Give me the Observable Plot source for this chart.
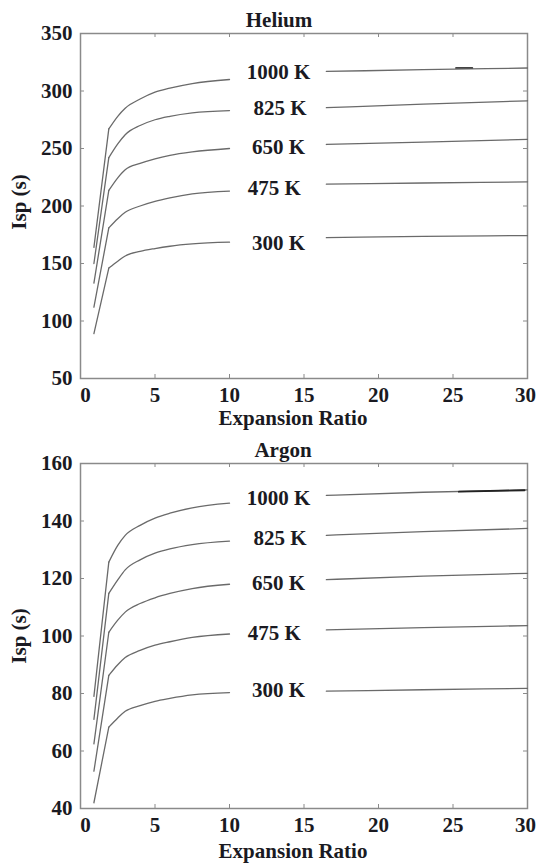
<!DOCTYPE html>
<html><head><meta charset="utf-8">
<script src="https://cdn.jsdelivr.net/npm/d3@7"></script>
<script src="https://cdn.jsdelivr.net/npm/@observablehq/plot@0.6"></script>
<style>
body{margin:0;background:#fff;}
#chart{width:536px;}
#chart svg{display:block;}
</style></head><body><div id="chart"></div>
<script>
const temps = ["1000 K", "825 K", "650 K", "475 K", "300 K"];
const leftX = [0.9, 1.9, 2.5, 3, 4, 5, 6, 7.5, 10];
const rightX = [16.5, 23, 30];
const xTicks = [0, 5, 10, 15, 20, 25, 30];

const heliumYTicks = [50, 100, 150, 200, 250, 300, 350];
const heliumLeft = [
  [164, 267, 278, 285, 293, 299, 302.5, 306.5, 310],
  [150, 242, 254, 262, 270, 275, 278, 281, 283],
  [133, 213.5, 224.5, 231.5, 237, 241, 244, 247, 250],
  [112, 181, 189, 194.5, 200, 204, 207, 210.5, 213],
  [89, 146, 152, 156.5, 160.5, 163, 165, 167, 168.5]
];
const heliumRight = [
  [317, 318.5, 320],
  [285.5, 288.5, 291.5],
  [253.5, 255.5, 258],
  [219, 220, 221],
  [172.5, 173.5, 174.3]
];
const heliumLabelX = [13.3, 13.4, 13.3, 13.0, 13.3];
const heliumLabelY = [316, 285, 251, 215, 168];
const heliumDarkX = [25.2, 26.3];
const heliumDarkY = [320.1, 320.1];

const argonYTicks = [40, 60, 80, 100, 120, 140, 160];
const argonLeft = [
  [79, 125.7, 131.5, 135, 138.5, 141, 142.7, 144.6, 146.2],
  [71, 114.8, 119.5, 123, 126.5, 128.8, 130.3, 131.8, 133],
  [62.5, 101.3, 105.5, 108.3, 111.3, 113.3, 114.8, 116.5, 118],
  [53, 86.3, 90, 92.5, 95, 96.8, 98, 99.5, 100.7],
  [42, 68.3, 71.5, 73.8, 75.8, 77.3, 78.3, 79.5, 80.3]
];
const argonRight = [
  [148.9, 150, 150.8],
  [135, 136.3, 137.4],
  [119.6, 120.8, 121.8],
  [102.1, 102.9, 103.6],
  [80.8, 81.3, 81.8]
];
const argonLabelX = [13.3, 13.4, 13.3, 13.0, 13.3];
const argonLabelY = [147.8, 134, 118.3, 100.8, 81];
const argonDarkX = [25.4, 29.8];
const argonDarkY = [150.2, 150.7];

const FONT = "'Liberation Serif', Tinos, 'Times New Roman', 'Nimbus Roman', 'Noto Serif', 'DejaVu Serif', serif";
const TEXT = "#1a1a22";
const LINE = "#6a6a6a";
const FRAME = "#8a8a8a";

const ctx = document.createElement("canvas").getContext("2d");
ctx.font = "bold 20px " + FONT;
const measured = ctx.measureText("Expansion Ratio").width || 141;
const FS = Math.max(14, Math.min(21, 20 * 151 / measured));

function panel({title, left, right, labelX, labelY, darkX, darkY, darkColor, darkWidth, yTicks, height, marginTop, marginBottom, titleDx, titleDy, xLabelDy, yLabelDy}) {
  const marginLeft = 80, marginRight = 9;
  const plotW = 536 - marginLeft - marginRight;
  const plotH = height - marginTop - marginBottom;
  const steep = [], curved = [];
  temps.forEach((t, i) => {
    [0, 1].forEach(j => steep.push({seg: t + "-S", x: leftX[j], y: left[i][j]}));
    leftX.forEach((x, j) => { if (j >= 1) curved.push({seg: t + "-L", x, y: left[i][j]}); });
    rightX.forEach((x, j) => curved.push({seg: t + "-R", x, y: right[i][j]}));
  });
  const dark = darkX.map((x, j) => ({x, y: darkY[j]}));
  const labels = temps.map((t, i) => ({t, x: labelX[i], y: labelY[i]}));
  const txt = {fontSize: FS, fill: TEXT, fontFamily: FONT, fontWeight: "bold"};
  const midTicks = xTicks.slice(1, -1);
  return Plot.plot({
    width: 536, height, marginTop, marginBottom, marginLeft, marginRight,
    style: {fontFamily: FONT, fontWeight: "bold", fontSize: FS + "px", color: TEXT, background: "#fff"},
    x: {domain: [0, 30]},
    y: {domain: [yTicks[0], yTicks[yTicks.length - 1]]},
    marks: [
      Plot.frame({stroke: FRAME, strokeWidth: 1.5}),
      Plot.ruleX(xTicks, {x: d => d, insetTop: plotH - 4, stroke: FRAME}),
      Plot.ruleX(xTicks, {x: d => d, insetBottom: plotH - 4, stroke: FRAME}),
      Plot.ruleY(yTicks, {y: d => d, insetRight: plotW - 4, stroke: FRAME}),
      Plot.ruleY(yTicks, {y: d => d, insetLeft: plotW - 4, stroke: FRAME}),
      Plot.axisX(midTicks, {tickSize: 0, tickPadding: 9, label: null, ...txt}),
      Plot.axisX([xTicks[0]], {tickSize: 0, tickPadding: 9, label: null, dx: 5, ...txt}),
      Plot.axisX([xTicks[xTicks.length - 1]], {tickSize: 0, tickPadding: 9, label: null, dx: -2, ...txt}),
      Plot.axisY(yTicks, {tickSize: 0, tickPadding: 8, label: null, ...txt}),
      Plot.line(steep, {x: "x", y: "y", z: "seg", stroke: LINE, strokeWidth: 1.3}),
      Plot.line(curved, {x: "x", y: "y", z: "seg", stroke: LINE, strokeWidth: 1.3, curve: "monotone-x"}),
      Plot.line(dark, {x: "x", y: "y", stroke: darkColor, strokeWidth: darkWidth}),
      Plot.text(labels, {x: "x", y: "y", text: "t", ...txt}),
      Plot.text([title], {frameAnchor: "top", lineAnchor: "middle", dx: titleDx, dy: titleDy, ...txt}),
      Plot.text(["Expansion Ratio"], {frameAnchor: "bottom", lineAnchor: "middle", dx: -11, dy: xLabelDy, ...txt}),
      Plot.text(["Isp (s)"], {frameAnchor: "left", textAnchor: "middle", lineAnchor: "middle", dx: -61, dy: yLabelDy, rotate: -90, ...txt})
    ]
  });
}

const chart = document.getElementById("chart");
chart.append(panel({
  title: "Helium", left: heliumLeft, right: heliumRight, labelX: heliumLabelX, labelY: heliumLabelY,
  darkX: heliumDarkX, darkY: heliumDarkY, darkColor: "#444", darkWidth: 1.7,
  yTicks: heliumYTicks, height: 432, marginTop: 33, marginBottom: 54,
  titleDx: -25, titleDy: -13, xLabelDy: 40, yLabelDy: -4
}));
chart.append(panel({
  title: "Argon", left: argonLeft, right: argonRight, labelX: argonLabelX, labelY: argonLabelY,
  darkX: argonDarkX, darkY: argonDarkY, darkColor: "#222", darkWidth: 1.9,
  yTicks: argonYTicks, height: 431, marginTop: 31, marginBottom: 55,
  titleDx: -21, titleDy: -13, xLabelDy: 43, yLabelDy: 0
}));
</script></body></html>
